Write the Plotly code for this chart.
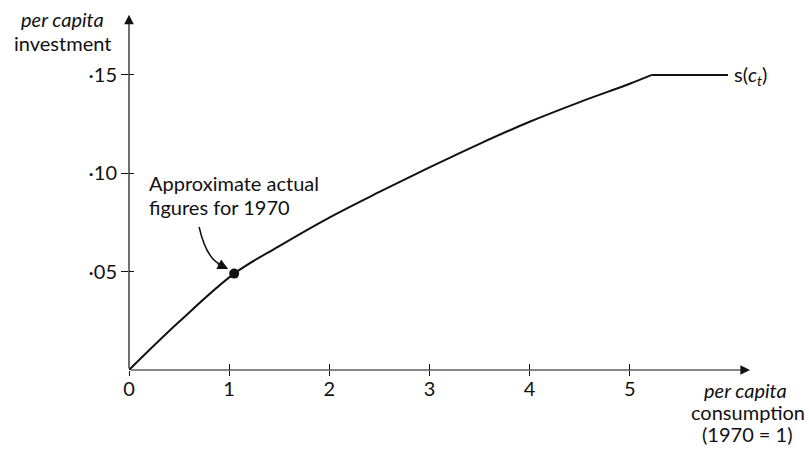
import plotly.graph_objects as go

# ---- data ----
consumption = [0, 0.5, 1.05, 1.5, 2.0, 2.5, 3.0, 3.5, 4.0, 4.5, 5.0, 5.22, 5.98]
investment = [0, 0.0245, 0.049, 0.063, 0.0775, 0.0905, 0.103, 0.115, 0.1262, 0.1362, 0.1455, 0.150, 0.150]
point_1970 = (1.05, 0.049)
x_ticks = [0, 1, 2, 3, 4, 5]
x_ticktext = ["0", "1", "2", "3", "4", "5"]
y_ticks = [0.05, 0.10, 0.15]
y_ticktext = ["·05", "·10", "·15"]
x_max, y_max = 6.2, 0.1806
x_range, y_range = [0, 6.25], [0, 0.182]

FONT = "Lato"
BLACK = "#111111"
L, T, B, R = 129, 12, 79, 54
PW, PH = 809 - L - R, 449 - T - B


def px(xp):
    return (xp - L) / PW


def py(yp):
    return (449 - B - yp) / PH


fig = go.Figure()
k = len(consumption) - 1  # last point is the flat plateau end
fig.add_trace(go.Scatter(x=consumption[:k], y=investment[:k], mode="lines",
                         line=dict(color=BLACK, width=2, shape="spline", smoothing=1.0),
                         hoverinfo="skip", showlegend=False))
fig.add_trace(go.Scatter(x=consumption[k - 1:], y=investment[k - 1:], mode="lines",
                         line=dict(color=BLACK, width=2),
                         hoverinfo="skip", showlegend=False))
fig.add_trace(go.Scatter(x=[point_1970[0]], y=[point_1970[1]], mode="markers",
                         marker=dict(color=BLACK, size=10), xaxis="x2", yaxis="y2",
                         hoverinfo="skip", showlegend=False))

tickfont = dict(family=FONT, size=20, color=BLACK)
common = dict(showgrid=False, zeroline=False, showline=False, tickcolor=BLACK, tickwidth=1)
fig.update_layout(
    width=809, height=449,
    margin=dict(l=L, r=R, t=T, b=B),
    paper_bgcolor="white", plot_bgcolor="white",
    xaxis=dict(range=x_range, tickvals=x_ticks, ticktext=x_ticktext, ticks="outside",
               ticklen=5, tickfont=tickfont, ticklabelstandoff=-4, **common),
    yaxis=dict(range=y_range, tickvals=y_ticks, ticktext=y_ticktext, ticks="outside",
               ticklen=7, tickfont=tickfont, **common),
    xaxis2=dict(overlaying="x", matches="x", range=x_range, tickvals=x_ticks, ticks="inside",
                ticklen=6, showticklabels=False, **common),
    yaxis2=dict(overlaying="y", matches="y", range=y_range, tickvals=y_ticks, ticks="inside",
                ticklen=5, showticklabels=False, **common),
)

# axis arrows
for (tx, ty) in [(x_max, 0), (0, y_max)]:
    fig.add_annotation(x=tx, y=ty, ax=0, ay=0, xref="x", yref="y", axref="x", ayref="y",
                       showarrow=True, arrowhead=2, arrowsize=1.6, arrowwidth=1.2,
                       arrowcolor=BLACK, text="", standoff=0)

# curved pointer to the 1970 point
fig.add_shape(type="path", xref="x", yref="y",
              path="M0.70,0.0727 Q0.78,0.0549 0.95,0.0529",
              line=dict(color=BLACK, width=1.5))
fig.add_annotation(x=0.99, y=0.0514, ax=-12, ay=-6, xref="x", yref="y",
                   showarrow=True, arrowhead=2, arrowsize=1.4, arrowwidth=1.5,
                   arrowcolor=BLACK, text="", standoff=0)

txt = dict(family=FONT, size=20, color=BLACK)


def label(text, xp, yp, xanchor="left"):
    fig.add_annotation(text=text, xref="paper", yref="paper", x=px(xp), y=py(yp),
                       xanchor=xanchor, yanchor="middle", showarrow=False, font=txt)


label("Approximate actual", 147, 183)
label("figures for 1970", 147, 207)
label("s(<i>c</i><sub><i>t</i></sub>)", 732, 75)
label("<i>per capita</i>", 62, 19, "center")
label("investment", 62, 43, "center")
label("<i>per capita</i>", 745, 390, "center")
label("consumption", 748, 412, "center")
label("(1970 = 1)", 747, 434, "center")

fig.write_html("out.html", config={"displayModeBar": False},
               post_script="document.body.style.margin='0';")
